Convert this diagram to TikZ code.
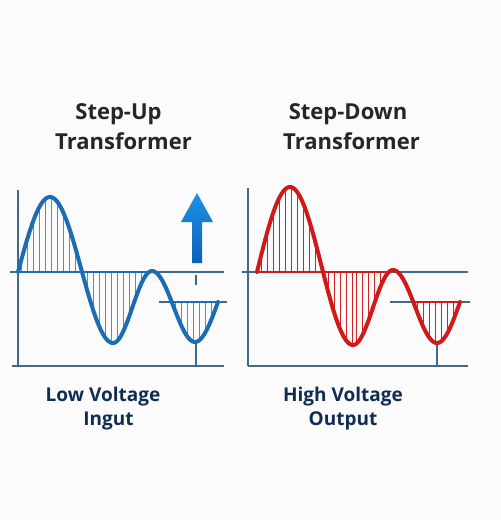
\documentclass[tikz,border=0pt]{standalone}
\usepackage{fontspec}
\setmainfont{Open Sans}
\definecolor{bgc}{HTML}{FBFBFB}
\definecolor{axisc}{HTML}{3F6A8C}
\definecolor{bluew}{HTML}{1A6DB5}
\definecolor{blueh}{HTML}{3A95DC}
\definecolor{redw}{HTML}{D01A1A}
\definecolor{redh}{HTML}{D42222}
\definecolor{titlec}{HTML}{262626}
\definecolor{labelc}{HTML}{0F2D52}
\definecolor{arrtop}{HTML}{1E90E6}
\definecolor{arrbot}{HTML}{0C60B9}
\begin{document}
\begin{tikzpicture}[x=1pt,y=-1pt,
  axisline/.style={draw=axisc,line width=1.1pt},
  wave/.style={line width=4pt,line join=round,line cap=round},
  hatch/.style={line width=1pt},
  base/.style={line width=2pt},
  titletext/.style={text=titlec,font=\fontsize{22}{26}\selectfont\bfseries,anchor=base,inner sep=0pt},
  labeltext/.style={text=labelc,font=\fontsize{19}{23}\selectfont\bfseries,anchor=base,inner sep=0pt}]
\fill[bgc] (0,0) rectangle (501,520);
\useasboundingbox (0,0) rectangle (501,520);

% ---------- titles ----------
\node[titletext] (t1a) at (118.5,119) {Step-Up};
\node[titletext] (t1b) at (123.5,149) {Transformer};
\node[titletext] (t2a) at (348,119) {Step-Down};
\node[titletext] (t2b) at (351.5,149) {Transformer};

% ---------- bottom labels ----------
\node[labeltext] (l1a) at (103,401) {Low Voltage};
\node[labeltext] (l1b) at (108.5,425) {Ingut};
\node[labeltext] (l2a) at (343,401) {High Voltage};
\node[labeltext] (l2b) at (343,425) {Output};

% ================= LEFT PANEL =================
\draw[axisline] (18,190) -- (18,366);
\draw[axisline] (12,366) -- (224,366);
\draw[axisline] (10,272) -- (224,272);
\draw[axisline] (159,302) -- (227,302);
\draw[axisline] (196,275) -- (196,285);
\draw[axisline] (196,342) -- (196,366);

% hatching
\foreach \x in {21,27,...,48}
  \draw[hatch,blueh] (\x,272) -- (\x,{272-75*sin(90*(\x-18)/32)});
\foreach \x in {51,57,...,80}
  \draw[hatch,blueh] (\x,272) -- (\x,{270-73*cos(180*(\x-50)/63)});
\foreach \x in {87,93,...,112}
  \draw[hatch,blueh] (\x,272) -- (\x,{270-73*cos(180*(\x-50)/63)});
\foreach \x in {117,123,...,146}
  \draw[hatch,blueh] (\x,272) -- (\x,{307+36*cos(180*(\x-113)/39)});
\foreach \x in {175,181,...,194}
  \draw[hatch,blueh] (\x,302) -- (\x,{306.5-35.5*cos(180*(\x-152)/43)});
\foreach \x in {199,205,...,216}
  \draw[hatch,blueh] (\x,302) -- (\x,{302+40*cos(180*(\x-195)/46)});
\draw[base,bluew] (18,272) -- (145,272);
\draw[base,bluew] (172,302) -- (218,302);

% wave
\draw[wave,bluew]
  plot[domain=18:50,samples=30] (\x,{272-75*sin(90*(\x-18)/32)})
  -- plot[domain=50:113,samples=50] (\x,{270-73*cos(180*(\x-50)/63)})
  -- plot[domain=113:152,samples=30] (\x,{307+36*cos(180*(\x-113)/39)})
  -- plot[domain=152:195,samples=30] (\x,{306.5-35.5*cos(180*(\x-152)/43)})
  -- plot[domain=195:218,samples=20] (\x,{302+40*cos(180*(\x-195)/46)});

% arrow
\shade[top color=arrtop,bottom color=arrbot]
  (192,263) -- (202,263) -- (202,222) -- (213,222) -- (197,193) -- (181,222) -- (192,222) -- cycle;

% ================= RIGHT PANEL =================
\draw[axisline] (248,188) -- (248,366);
\draw[axisline] (248,366) -- (468,366);
\draw[axisline] (242,272) -- (468,272);
\draw[axisline] (390,302) -- (470,302);
\draw[axisline] (437,343) -- (437,366);

\foreach \x in {261,267,...,289}
  \draw[hatch,redh] (\x,272) -- (\x,{272-85*sin(90*(\x-257)/33)});
\foreach \x in {291,297,...,322}
  \draw[hatch,redh] (\x,272) -- (\x,{266-79*cos(180*(\x-290)/63)});
\foreach \x in {328,334,...,352}
  \draw[hatch,redh] (\x,272) -- (\x,{266-79*cos(180*(\x-290)/63)});
\foreach \x in {356,362,...,386}
  \draw[hatch,redh] (\x,272) -- (\x,{307.5+37.5*cos(180*(\x-353)/40)});
\foreach \x in {417,423,...,436}
  \draw[hatch,redh] (\x,302) -- (\x,{306.5-36.5*cos(180*(\x-393)/44)});
\foreach \x in {441,447,...,458}
  \draw[hatch,redh] (\x,302) -- (\x,{302+41*cos(180*(\x-437)/46)});
\draw[base,redw] (257,272) -- (385,272);
\draw[base,redw] (413,302) -- (460,302);

\draw[wave,redw]
  plot[domain=257:290,samples=30] (\x,{272-85*sin(90*(\x-257)/33)})
  -- plot[domain=290:353,samples=50] (\x,{266-79*cos(180*(\x-290)/63)})
  -- plot[domain=353:393,samples=30] (\x,{307.5+37.5*cos(180*(\x-353)/40)})
  -- plot[domain=393:437,samples=30] (\x,{306.5-36.5*cos(180*(\x-393)/44)})
  -- plot[domain=437:460,samples=20] (\x,{302+41*cos(180*(\x-437)/46)});
\end{tikzpicture}
\end{document}
